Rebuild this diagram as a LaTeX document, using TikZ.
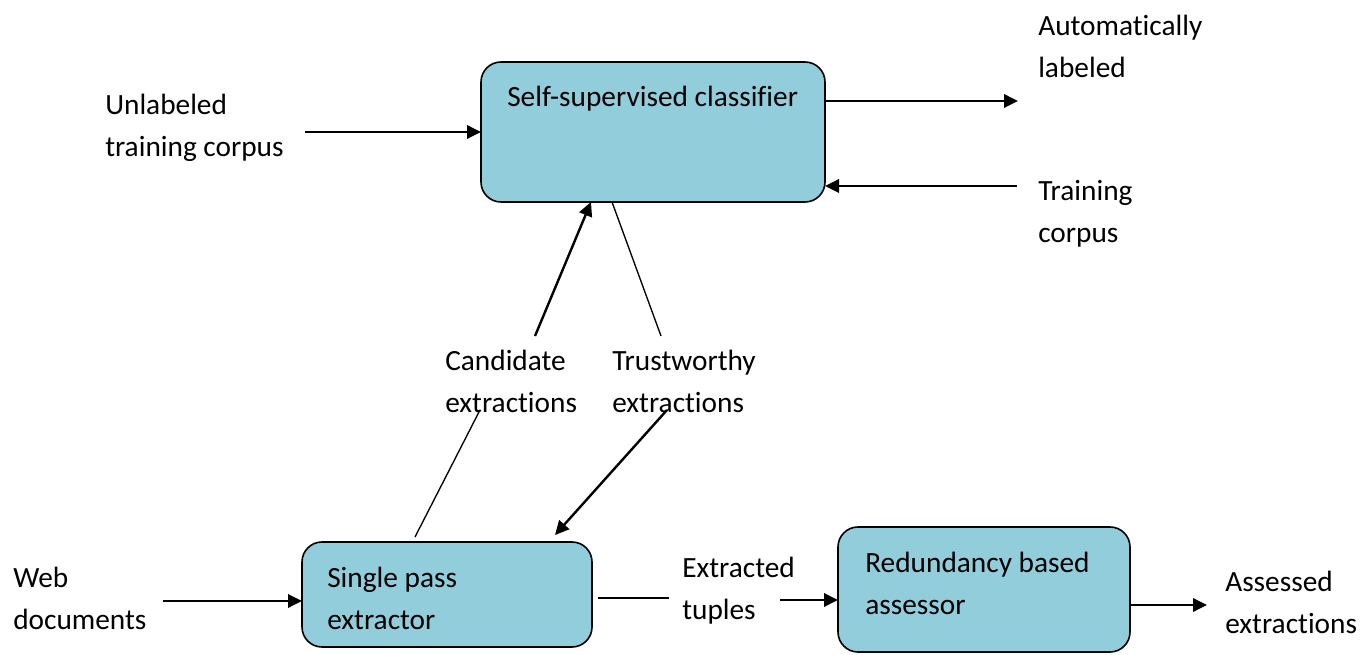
\documentclass[tikz,border=0pt]{standalone}
\usepackage{fontspec}
\setmainfont{Carlito}[Ligatures=NoCommon]
\usetikzlibrary{arrows.meta}
\definecolor{boxfill}{HTML}{92CDDC}
\begin{document}
\begin{tikzpicture}[x=0.75pt,y=-0.75pt,
  box/.style={draw=black,line width=1.2pt,fill=boxfill,rounded corners=15pt},
  lbl/.style={anchor=west,align=left,inner sep=0pt,font=\fontsize{22}{31.5}\selectfont},
  arr/.style={line width=1.8pt,-{Triangle[length=10.5pt,width=10pt]}},
  thin/.style={line width=1pt}]
\useasboundingbox (0,0) rectangle (1370,655);
% boxes
\draw[box] (481,62) rectangle (825,202);
\draw[box] (302,542) rectangle (592,647);
\draw[box] (838,527) rectangle (1130,652);
\node[lbl] (tssc) at (507,99) {Self-supervised classifier};
\node[lbl] (tspe) at (327,598) {Single pass\\extractor};
\node[lbl] (trba) at (865,583) {Redundancy based\\assessor};
% labels
\node[lbl] (unl) at (105,128) {Unlabeled\\training corpus};
\node[lbl] (aut) at (1038,46) {Automatically\\labeled};
\node[lbl] (trc) at (1038,214) {Training\\corpus};
\node[lbl] (cand) at (445,381) {Candidate\\extractions};
\node[lbl] (trust) at (612,381) {Trustworthy\\extractions};
\node[lbl] (web) at (13,598) {Web\\documents};
\node[lbl] (ext) at (682,591) {Extracted\\tuples};
\node[lbl] (ass) at (1225,602) {Assessed\\extractions};
% connector ends
\coordinate (a1) at (305,132); \coordinate (a2) at (481,132);
\coordinate (b1) at (825,101); \coordinate (b2) at (1018,101);
\coordinate (c1) at (1017,186); \coordinate (c2) at (825,186);
\coordinate (d1) at (535,336); \coordinate (d2) at (591,202);
\coordinate (e1) at (612,202); \coordinate (e2) at (661,336);
\coordinate (f1) at (480,410); \coordinate (f2) at (415,537);
\coordinate (g1) at (667,410); \coordinate (g2) at (555,535);
\coordinate (h1) at (163,601); \coordinate (h2) at (302,601);
\coordinate (i1) at (598,598); \coordinate (i2) at (669,598);
\coordinate (j1) at (780,600); \coordinate (j2) at (838,600);
\coordinate (k1) at (1130,605); \coordinate (k2) at (1207,605);
% connectors
\draw[arr] (a1) -- (a2);
\draw[arr] (b1) -- (b2);
\draw[arr] (c1) -- (c2);
\draw[arr] (d1) -- (d2);
\draw[thin] (e1) -- (e2);
\draw[thin] (f1) -- (f2);
\draw[arr] (g1) -- (g2);
\draw[arr] (h1) -- (h2);
\draw[thin] (i1) -- (i2);
\draw[arr] (j1) -- (j2);
\draw[arr] (k1) -- (k2);
\end{tikzpicture}
\end{document}
